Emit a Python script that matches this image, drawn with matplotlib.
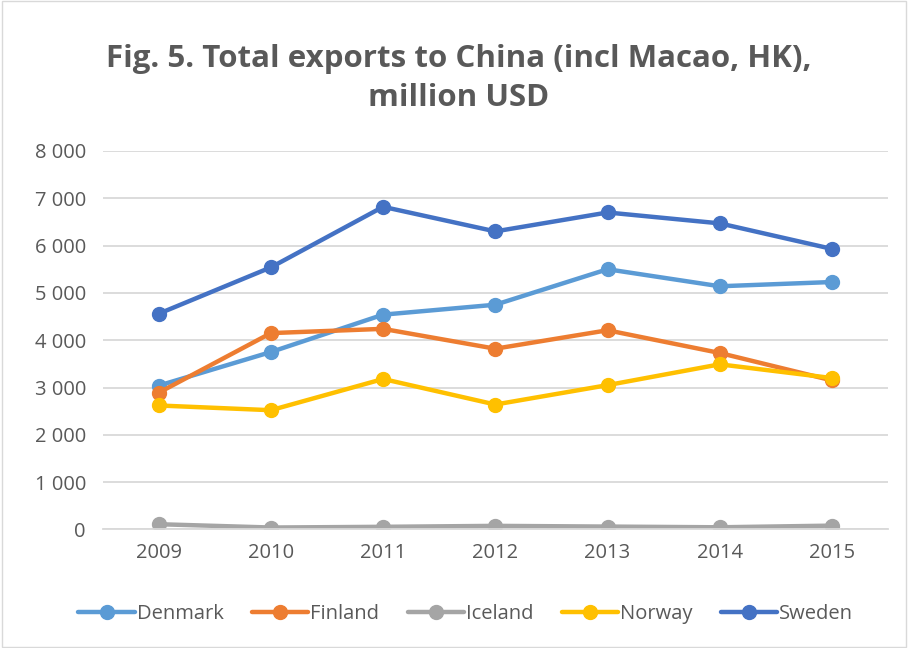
import matplotlib.pyplot as plt
from matplotlib.patches import Rectangle
from matplotlib.ticker import FuncFormatter

years = ['2009', '2010', '2011', '2012', '2013', '2014', '2015']
denmark = [3040, 3750, 4540, 4750, 5500, 5140, 5230]
finland = [2890, 4150, 4240, 3820, 4210, 3730, 3150]
iceland = [110, 40, 55, 75, 60, 45, 80]
norway = [2620, 2520, 3180, 2640, 3050, 3490, 3200]
sweden = [4560, 5540, 6820, 6300, 6700, 6470, 5930]

series = [('Denmark', denmark, '#5B9BD5'),
          ('Finland', finland, '#ED7D31'),
          ('Iceland', iceland, '#A5A5A5'),
          ('Norway', norway, '#FFC000'),
          ('Sweden', sweden, '#4472C4')]

plt.rcParams['font.family'] = ['Open Sans', 'DejaVu Sans']
txt = '#595959'

fig = plt.figure(figsize=(9.08, 6.48), dpi=100)
ax = fig.add_axes([0.113, 0.183, 0.865, 0.584])

x = range(len(years))
for name, vals, col in series:
    ax.plot(x, vals, color=col, lw=3.2, marker='o', ms=10, label=name,
            solid_capstyle='round')

ax.set_xlim(-0.5, len(years) - 0.5)
ax.set_ylim(0, 8000)
ax.set_yticks(range(0, 8001, 1000))
ax.yaxis.set_major_formatter(FuncFormatter(lambda v, p: f'{int(v):,}'.replace(',', ' ')))
ax.set_xticks(list(x))
ax.set_xticklabels(years)
ax.grid(axis='y', color='#D9D9D9', lw=1.3)
ax.set_axisbelow(True)
for s in ['top', 'right', 'left']:
    ax.spines[s].set_visible(False)
ax.spines['bottom'].set_color('#D9D9D9')
ax.spines['bottom'].set_linewidth(1.3)
ax.tick_params(length=0, labelsize=14.5, colors=txt, pad=10)
ax.tick_params(axis='y', pad=12)

fig.text(0.505, 0.879, 'Fig. 5. Total exports to China (incl Macao, HK),\nmillion USD',
         ha='center', va='center', fontsize=22.5, fontweight='bold', color=txt,
         linespacing=1.4)

leg = fig.legend(loc='center', bbox_to_anchor=(0.513, 0.052), ncol=5, frameon=False,
                 fontsize=14.5, handlelength=2.8, handletextpad=0.1, columnspacing=1.4)
for t in leg.get_texts():
    t.set_color(txt)

fig.patches.append(Rectangle((0.002, 0.002), 0.996, 0.996, transform=fig.transFigure,
                             fill=False, edgecolor='#D9D9D9', lw=1))

fig.savefig('out.png', dpi=100)
